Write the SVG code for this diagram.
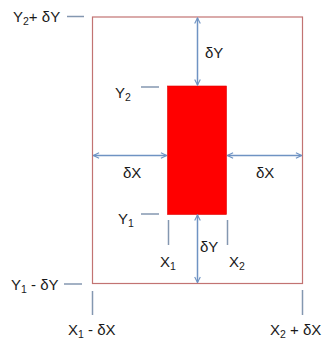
<svg xmlns="http://www.w3.org/2000/svg" width="324" height="341" viewBox="0 0 324 341">
<defs>
<marker id="ah" viewBox="0 0 10 10" refX="9" refY="5" markerWidth="7" markerHeight="7" orient="auto-start-reverse" markerUnits="userSpaceOnUse">
<path d="M1,1 L9,5 L1,9" fill="none" stroke="#6f93c3" stroke-width="1.6"/>
</marker>
</defs>
<style>
text{font-family:"Liberation Sans",Arial,sans-serif;font-size:15px;fill:#1a1a1a}
.sub{font-size:10.5px}
.tick{stroke:#8497b0;stroke-width:1.5;fill:none}
.arr{stroke:#6f93c3;stroke-width:1.5;fill:none}
</style>
<rect width="324" height="341" fill="#ffffff"/>
<g id="outer"><rect x="92.5" y="17" width="210" height="266.5" fill="none" stroke="#c27372" stroke-width="1.2"/></g>
<g id="inner"><rect x="167.5" y="86" width="59" height="128.5" fill="#ff0000" stroke="#e00000" stroke-width="0.6"/></g>
<g id="connectors">
<line class="arr" x1="197.5" y1="18" x2="197.5" y2="85" marker-start="url(#ah)" marker-end="url(#ah)"/>
<line class="arr" x1="197.5" y1="215" x2="197.5" y2="282.5" marker-start="url(#ah)" marker-end="url(#ah)"/>
<line class="arr" x1="93.5" y1="155.5" x2="166.5" y2="155.5" marker-start="url(#ah)" marker-end="url(#ah)"/>
<line class="arr" x1="227.5" y1="155.5" x2="301.5" y2="155.5" marker-start="url(#ah)" marker-end="url(#ah)"/>
</g>
<g id="ticks">
<line class="tick" x1="67" y1="16.5" x2="84" y2="16.5"/>
<line class="tick" x1="141" y1="87" x2="159" y2="87"/>
<line class="tick" x1="141" y1="214" x2="159" y2="214"/>
<line class="tick" x1="64" y1="284" x2="82" y2="284"/>
<line class="tick" x1="168.5" y1="220" x2="168.5" y2="245"/>
<line class="tick" x1="227.5" y1="220" x2="227.5" y2="245"/>
<line class="tick" x1="92.5" y1="291" x2="92.5" y2="315"/>
<line class="tick" x1="302.5" y1="290" x2="302.5" y2="315"/>
</g>
<g id="labels">
<text x="13" y="22">Y<tspan class="sub" dy="3">2</tspan><tspan dy="-3">+ δY</tspan></text>
<text x="115" y="98">Y<tspan class="sub" dy="3">2</tspan></text>
<text x="118" y="224">Y<tspan class="sub" dy="3">1</tspan></text>
<text x="11" y="290">Y<tspan class="sub" dy="3">1</tspan><tspan dy="-3"> - δY</tspan></text>
<text x="205" y="58">δY</text>
<text x="200" y="252">δY</text>
<text x="123" y="178">δX</text>
<text x="256" y="178">δX</text>
<text x="160" y="267">X<tspan class="sub" dy="3">1</tspan></text>
<text x="229" y="267">X<tspan class="sub" dy="3">2</tspan></text>
<text x="68" y="335">X<tspan class="sub" dy="3">1</tspan><tspan dy="-3"> - δX</tspan></text>
<text x="270" y="335">X<tspan class="sub" dy="3">2</tspan><tspan dy="-3"> + δX</tspan></text>
</g>
</svg>
